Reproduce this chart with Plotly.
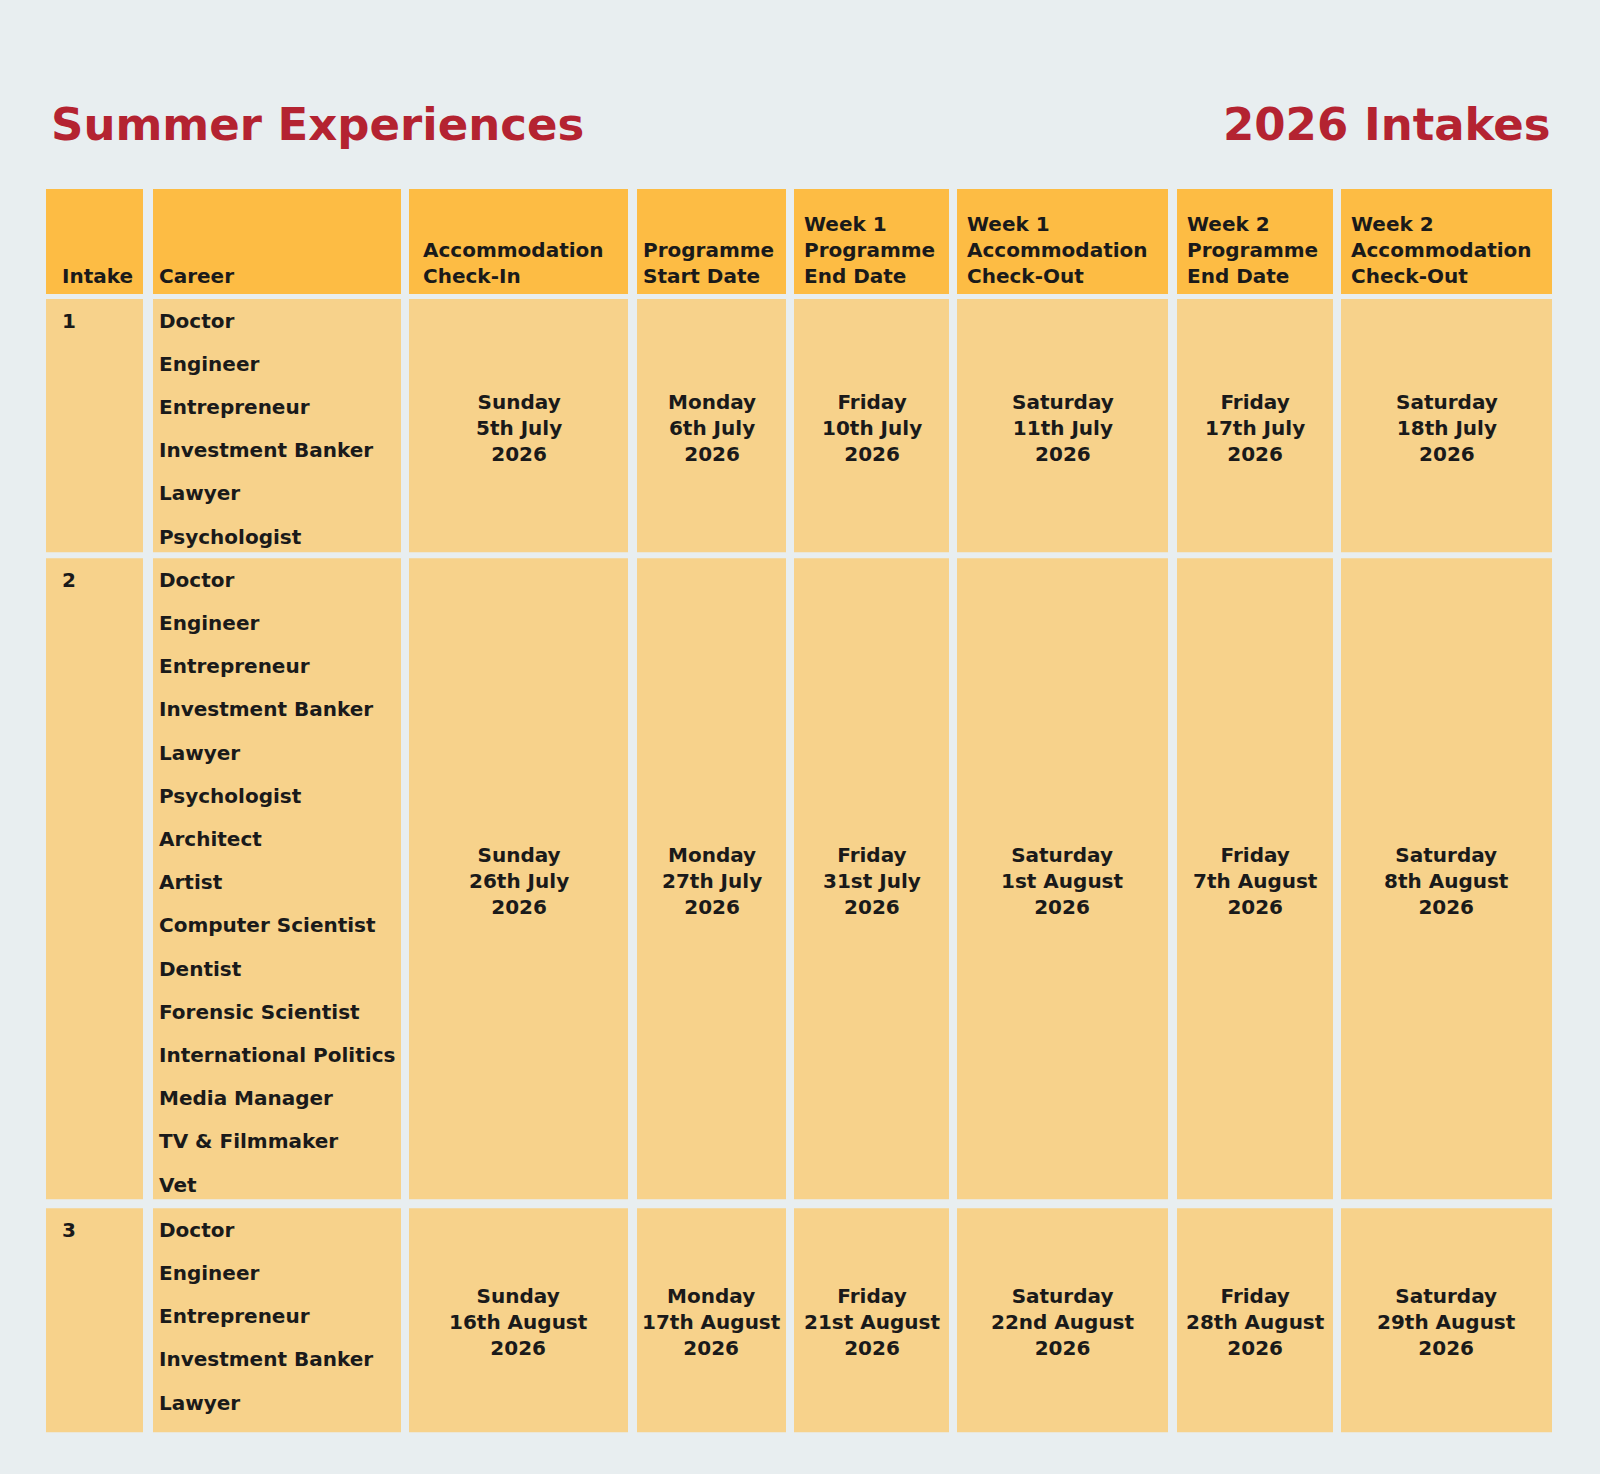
import plotly.graph_objects as go

# ---- data ----
title_left = "Summer Experiences"
title_right = "2026 Intakes"

headers = ["Intake", "Career", "Accommodation<br>Check-In", "Programme<br>Start Date",
           "Week 1<br>Programme<br>End Date", "Week 1<br>Accommodation<br>Check-Out",
           "Week 2<br>Programme<br>End Date", "Week 2<br>Accommodation<br>Check-Out"]

intakes = ["1", "2", "3"]

careers_1 = ["Doctor", "Engineer", "Entrepreneur", "Investment Banker", "Lawyer", "Psychologist"]
careers_2 = ["Doctor", "Engineer", "Entrepreneur", "Investment Banker", "Lawyer", "Psychologist",
             "Architect", "Artist", "Computer Scientist", "Dentist", "Forensic Scientist",
             "International Politics", "Media Manager", "TV & Filmmaker", "Vet"]
careers_3 = ["Doctor", "Engineer", "Entrepreneur", "Investment Banker", "Lawyer"]
careers = [careers_1, careers_2, careers_3]

check_in = ["Sunday|5th July|2026", "Sunday|26th July|2026", "Sunday|16th August|2026"]
start_date = ["Monday|6th July|2026", "Monday|27th July|2026", "Monday|17th August|2026"]
week1_end = ["Friday|10th July|2026", "Friday|31st July|2026", "Friday|21st August|2026"]
week1_out = ["Saturday|11th July|2026", "Saturday|1st August|2026", "Saturday|22nd August|2026"]
week2_end = ["Friday|17th July|2026", "Friday|7th August|2026", "Friday|28th August|2026"]
week2_out = ["Saturday|18th July|2026", "Saturday|8th August|2026", "Saturday|29th August|2026"]
date_cols = [check_in, start_date, week1_end, week1_out, week2_end, week2_out]

# ---- layout / style ----
W, H = 1600, 1474
col_edges = [(46, 143), (153, 401), (409, 628), (637, 786), (794, 949),
             (957, 1168), (1177, 1333), (1341, 1552)]
col_pad = [14, 4, 12, 4, 8, 8, 8, 8]
header_top, header_bot = 189, 294
row_gaps = [5, 6, 9]
slot = 43.2
row_extra = [-6, -7, 8]

bg = "#e8eef0"
head_col = "#fdbc44"
body_col = "#f7d28b"
red = "#b42331"
ink = "#1a1a1a"
FONT = "DejaVu Sans"

fig = go.Figure()
shapes = []
annos = []

def rect(x0, x1, y0, y1, c):
    shapes.append(dict(type="rect", xref="x", yref="y", x0=x0, x1=x1, y0=y0, y1=y1,
                       fillcolor=c, line=dict(width=0), layer="below"))

def txt(x, y, s, xa, ya, size=20, color=ink, align="left"):
    annos.append(dict(x=x, y=y, xref="x", yref="y", text=s, showarrow=False,
                      xanchor=xa, yanchor=ya, align=align,
                      font=dict(family=FONT, size=size, color=color, weight=600)))

# header
for (x0, x1), pad, h in zip(col_edges, col_pad, headers):
    rect(x0, x1, header_top, header_bot, head_col)
    txt(x0 + pad, header_bot - 4, h, "left", "bottom")

# body rows
y = header_bot
for k in range(len(intakes)):
    y += row_gaps[k]
    rh = len(careers[k]) * slot + row_extra[k]
    y0, y1 = y, y + rh
    for x0, x1 in col_edges:
        rect(x0, x1, y0, y1, body_col)
    first = y0 + 21.5
    txt(col_edges[0][0] + col_pad[0], first, intakes[k], "left", "middle")
    for i, c in enumerate(careers[k]):
        txt(col_edges[1][0] + col_pad[1], first + i * slot, c, "left", "middle")
    for j, col in enumerate(date_cols):
        x0, x1 = col_edges[j + 2]
        txt((x0 + x1) / 2, (y0 + y1) / 2 + 2, col[k].replace("|", "<br>"),
            "center", "middle", align="center")
    y = y1

txt(49, 124, title_left, "left", "middle", size=45, color=red)
txt(1553, 124, title_right, "right", "middle", size=45, color=red)

fig.update_layout(
    width=W, height=H,
    margin=dict(l=0, r=0, t=0, b=0),
    paper_bgcolor=bg, plot_bgcolor=bg,
    showlegend=False,
    xaxis=dict(range=[0, W], visible=False, fixedrange=True),
    yaxis=dict(range=[H, 0], visible=False, fixedrange=True),
    shapes=shapes, annotations=annos,
)

fig.write_html("out.html", config={"displayModeBar": False},
               post_script="document.body.style.margin='0';")
